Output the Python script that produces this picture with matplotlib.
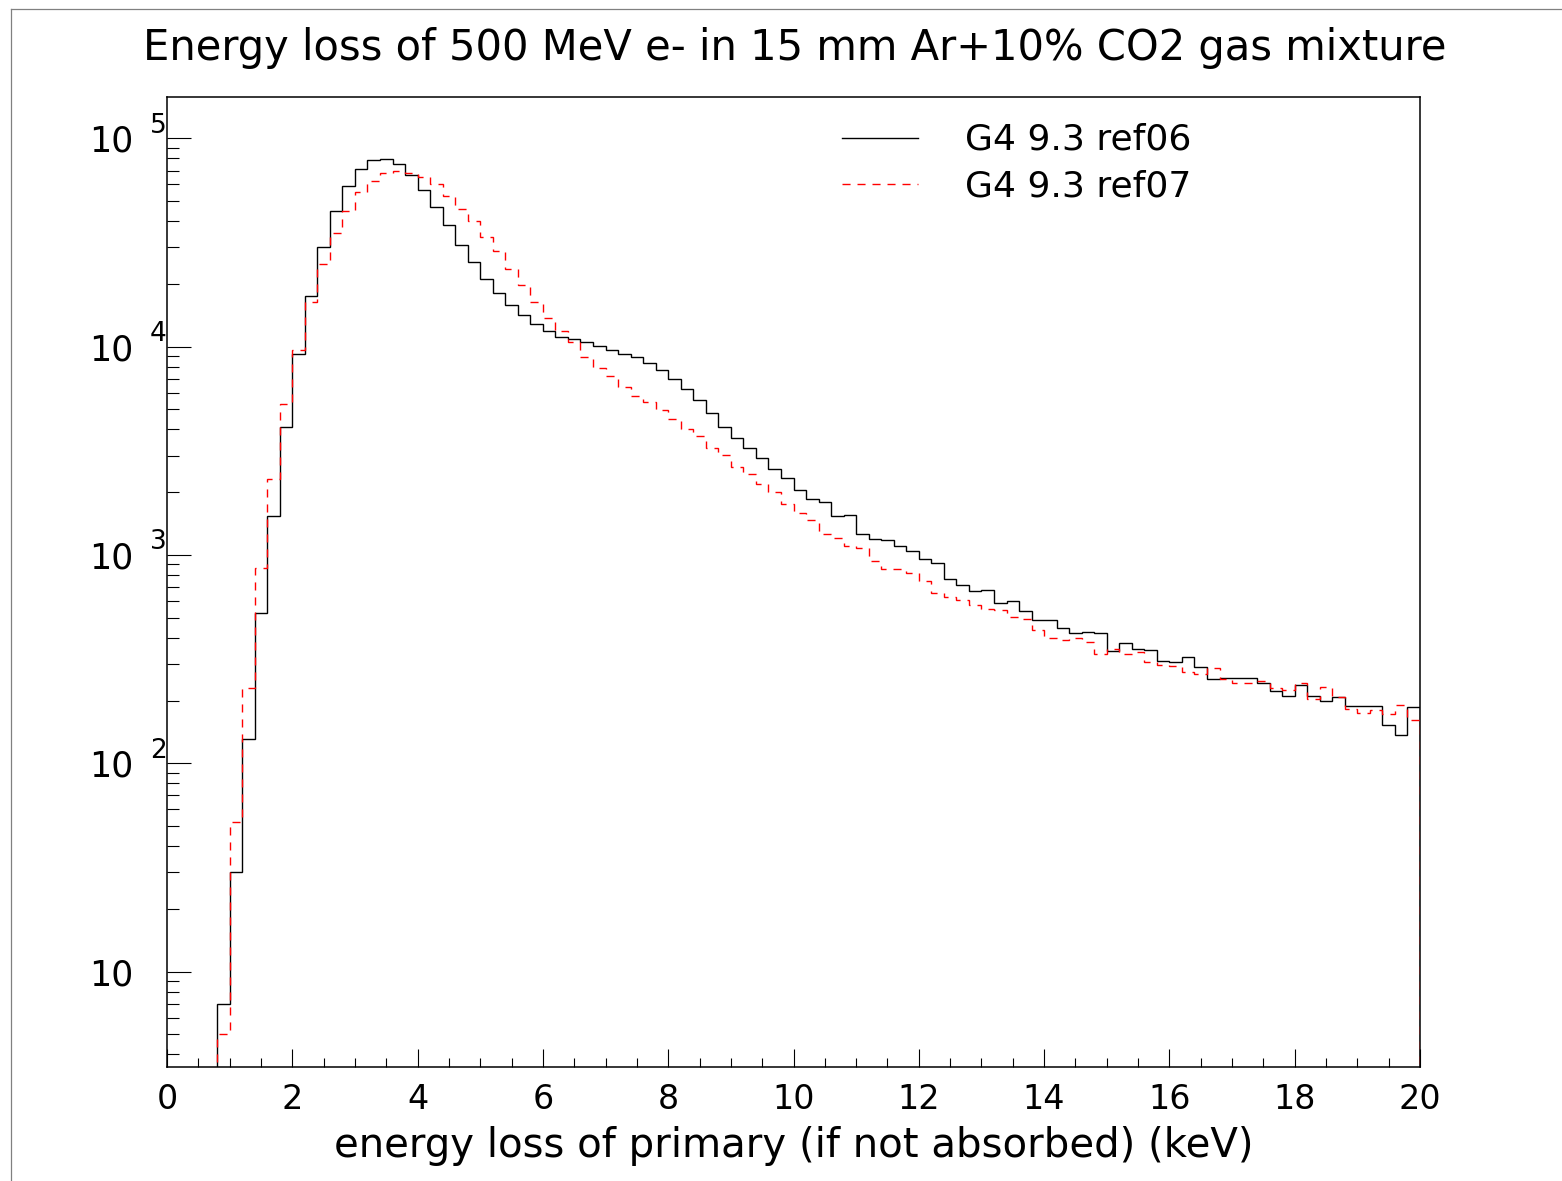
import numpy as np
import matplotlib
matplotlib.use("Agg")
import matplotlib.pyplot as plt
from matplotlib.ticker import FixedLocator, MultipleLocator, LogLocator, NullFormatter
import matplotlib.transforms as mtransforms
from matplotlib.lines import Line2D

# ---------------- data ----------------
bin_edges_kev = np.linspace(0.0, 20.0, 101)   # 100 bins of 0.2 keV

ref06_counts = [
    0, 0, 0, 0, 7, 30, 130, 525, 1540, 4130,
    9180, 17550, 29980, 44770, 58840, 71460, 78400, 79300, 75000, 66400,
    56600, 46700, 38220, 30640, 25470, 21040, 18030, 15840, 14230, 12880,
    11880, 11160, 10880, 10560, 10100, 9630, 9180, 8910, 8340, 7720,
    6990, 6240, 5540, 4800, 4130, 3640, 3250, 2920, 2580, 2330,
    2040, 1855, 1800, 1537, 1550, 1264, 1196, 1175, 1100, 1040,
    953, 911, 769, 717, 671, 675, 586, 599, 536, 489,
    489, 444, 423, 428, 420, 344, 379, 355, 349, 311,
    305, 322, 289, 253, 257, 256, 257, 243, 222, 210,
    237, 210, 200, 209, 188, 188, 188, 153, 137, 186,
]

ref07_counts = [
    0, 0, 0, 0, 5, 52, 230, 862, 2314, 5285,
    9660, 16430, 24930, 35230, 44920, 55200, 62400, 67900, 69700, 68400,
    65100, 60100, 52800, 45900, 40100, 33700, 28780, 23590, 19700, 16370,
    13760, 11880, 10490, 8910, 7890, 7190, 6400, 5800, 5440, 4945,
    4508, 4022, 3723, 3261, 3007, 2642, 2438, 2190, 2004, 1755,
    1584, 1471, 1260, 1205, 1107, 1076, 932, 855, 855, 821,
    750, 658, 626, 607, 575, 548, 546, 505, 492, 436,
    400, 389, 398, 383, 334, 353, 334, 341, 305, 297,
    294, 275, 268, 285, 253, 243, 243, 249, 230, 225,
    242, 204, 233, 209, 183, 174, 180, 172, 190, 161,
]

series_labels = ["G4 9.3 ref06", "G4 9.3 ref07"]
title_text = "Energy loss of 500 MeV e- in 15 mm Ar+10% CO2 gas mixture"
xlabel_text = "energy loss of primary (if not absorbed) (keV)"
xtick_values = [0, 2, 4, 6, 8, 10, 12, 14, 16, 18, 20]
ytick_exponents = [1, 2, 3, 4, 5]

# ---------------- figure ----------------
plt.rcParams["font.family"] = ["DejaVu Sans"]

W, H = 1562, 1181
fig = plt.figure(figsize=(W / 100, H / 100), dpi=100)
fig.patch.set_facecolor("white")

ax_l, ax_r, ax_t, ax_b = 167, 1420, 97, 1066.5
ax = fig.add_axes([ax_l / W, 1 - ax_b / H, (ax_r - ax_l) / W, (ax_b - ax_t) / H])


def ax_x(px):
    return (px - ax_l) / (ax_r - ax_l)


def ax_y(py):
    return (ax_b - py) / (ax_b - ax_t)


floor = 1e-3
v06 = np.where(np.array(ref06_counts, float) > 0, ref06_counts, floor)
v07 = np.where(np.array(ref07_counts, float) > 0, ref07_counts, floor)

ax.set_yscale("log")
ax.stairs(v06, bin_edges_kev, baseline=floor, color="black", lw=1.0, zorder=2)
ax.stairs(v07, bin_edges_kev, baseline=floor, color="red", lw=1.0,
          linestyle=(0, (5.8, 5.0)), zorder=3)

ax.set_xlim(0, 20)
ax.set_ylim(3.5, 1.578e5)

for s in ax.spines.values():
    s.set_linewidth(1.1)
    s.set_color("black")

# x ticks
ax.xaxis.set_major_locator(FixedLocator(xtick_values))
ax.set_xticklabels([str(v) for v in xtick_values])
ax.xaxis.set_minor_locator(MultipleLocator(0.5))
ax.tick_params(axis="x", which="major", direction="in", length=13, width=0.8,
               labelsize=24, pad=12, top=False)
ax.tick_params(axis="x", which="minor", direction="in", length=6.5, width=0.8, top=False)

# y ticks (ROOT style "10" with detached exponent)
ax.yaxis.set_major_locator(FixedLocator([10.0 ** e for e in ytick_exponents]))
ax.set_yticklabels(["10" for _ in ytick_exponents])
ax.yaxis.set_minor_locator(LogLocator(base=10, subs=np.arange(2, 10)))
ax.yaxis.set_minor_formatter(NullFormatter())
ax.tick_params(axis="y", which="major", direction="in", length=17, width=0.8,
               labelsize=25, pad=24, right=False)
ax.tick_params(axis="y", which="minor", direction="in", length=8.6, width=0.8, right=False)

exp_tr = mtransforms.offset_copy(ax.get_yaxis_transform(), fig=fig, x=0, y=4.0, units="points")
for e in ytick_exponents:
    if e == 1:
        continue
    ax.text(ax_x(150), 10.0 ** e, str(e), transform=exp_tr,
            ha="left", va="baseline", fontsize=19, clip_on=False)

# title and x label
ax.set_title(title_text, fontsize=30, pad=0, y=ax_y(60))
ax.title.set_x(ax_x(795))
ax.title.set_va("baseline")

ax.set_xlabel(xlabel_text, fontsize=29)
ax.xaxis.set_label_coords(ax_x(794), ax_y(1157))
ax.xaxis.label.set_va("baseline")

# legend (ROOT TLegend look, no frame)
ax.add_line(Line2D([ax_x(842), ax_x(918)], [ax_y(138), ax_y(138)], transform=ax.transAxes,
                   color="black", lw=1.0, clip_on=False))
ax.add_line(Line2D([ax_x(842), ax_x(918)], [ax_y(184), ax_y(184)], transform=ax.transAxes,
                   color="red", lw=1.0, linestyle=(0, (5.8, 5.0)), clip_on=False))
ax.text(ax_x(965), ax_y(150), series_labels[0], transform=ax.transAxes,
        ha="left", va="baseline", fontsize=26)
ax.text(ax_x(965), ax_y(196.7), series_labels[1], transform=ax.transAxes,
        ha="left", va="baseline", fontsize=26)

# outer canvas border (gray)
fig.add_artist(Line2D([11 / W, 11 / W], [0, 1 - 9 / H], transform=fig.transFigure,
                      color="#808080", lw=0.9))
fig.add_artist(Line2D([11 / W, 1.0], [1 - 9 / H, 1 - 9 / H], transform=fig.transFigure,
                      color="#808080", lw=0.9))

fig.savefig("out.png", dpi=100, facecolor="white")
